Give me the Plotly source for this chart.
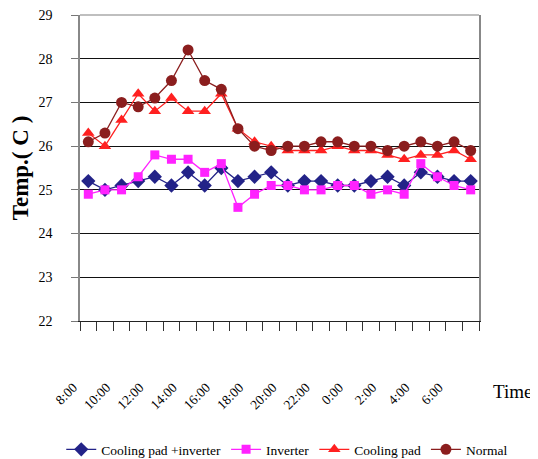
import plotly.graph_objects as go

times = ["8:00", "9:00", "10:00", "11:00", "12:00", "13:00", "14:00", "15:00",
         "16:00", "17:00", "18:00", "19:00", "20:00", "21:00", "22:00", "23:00",
         "0:00", "1:00", "2:00", "3:00", "4:00", "5:00", "6:00", "7:00"]
tick_labels = ["8:00", "10:00", "12:00", "14:00", "16:00", "18:00",
               "20:00", "22:00", "0:00", "2:00", "4:00", "6:00"]

cooling_pad_inverter = [25.2, 25.0, 25.1, 25.2, 25.3, 25.1, 25.4, 25.1, 25.5, 25.2, 25.3, 25.4,
                        25.1, 25.2, 25.2, 25.1, 25.1, 25.2, 25.3, 25.1, 25.4, 25.3, 25.2, 25.2]
inverter = [24.9, 25.0, 25.0, 25.3, 25.8, 25.7, 25.7, 25.4, 25.6, 24.6, 24.9, 25.1,
            25.1, 25.0, 25.0, 25.1, 25.1, 24.9, 25.0, 24.9, 25.6, 25.3, 25.1, 25.0]
cooling_pad = [26.3, 26.0, 26.6, 27.2, 26.8, 27.1, 26.8, 26.8, 27.2, 26.4, 26.1, 26.0,
               25.9, 25.9, 25.9, 26.0, 25.9, 25.9, 25.8, 25.7, 25.8, 25.8, 25.9, 25.7]
normal = [26.1, 26.3, 27.0, 26.9, 27.1, 27.5, 28.2, 27.5, 27.3, 26.4, 26.0, 25.9,
          26.0, 26.0, 26.1, 26.1, 26.0, 26.0, 25.9, 26.0, 26.1, 26.0, 26.1, 25.9]

FONT = "Liberation Serif, Times New Roman, serif"

series = [
    ("Cooling pad +inverter", cooling_pad_inverter, "#232388", "diamond", 11),
    ("Inverter", inverter, "#FF22FF", "square", 9),
    ("Cooling pad", cooling_pad, "#FF2020", "triangle-up", 11),
    ("Normal", normal, "#8B1E1E", "circle", 11),
]

fig = go.Figure()
for name, vals, color, sym, size in series:
    fig.add_trace(go.Scatter(
        x=times, y=vals, name=name, mode="lines+markers",
        line=dict(color=color, width=1.3),
        marker=dict(symbol=sym, size=size, color=color, line=dict(width=0)),
    ))

# invisible carrier trace so the label axis (x2) is drawn
fig.add_trace(go.Scatter(x=times, y=normal, xaxis="x2", yaxis="y", mode="lines",
                         line=dict(width=0, color="rgba(0,0,0,0)"),
                         showlegend=False, hoverinfo="skip"))

fig.update_layout(
    width=530, height=451,
    margin=dict(l=72, r=59, t=7, b=138, autoexpand=False),
    paper_bgcolor="white", plot_bgcolor="white",
    font=dict(family=FONT, color="black", size=14),
    showlegend=True,
    legend=dict(orientation="h", x=-0.047, xanchor="left", y=-0.42, yanchor="middle",
                font=dict(family=FONT, size=13.5), itemwidth=30,
                bgcolor="rgba(0,0,0,0)"),
    xaxis=dict(type="category", categoryorder="array", categoryarray=times,
               range=[-0.5, 23.5], tickson="boundaries", ticks="outside",
               ticklen=9, tickcolor="#333", tickwidth=1, automargin=False,
               showticklabels=False, showgrid=False, zeroline=False,
               showline=True, linecolor="#222", linewidth=1),
    xaxis2=dict(type="category", categoryorder="array", categoryarray=times,
                overlaying="x", anchor="y", side="bottom", range=[-0.5, 23.5],
                tickmode="array", tickvals=tick_labels, ticktext=tick_labels,
                tickangle=-45, ticks="", showgrid=False, zeroline=False, showline=False,
                ticklabelstandoff=55, ticklabelshift=-15, automargin=False,
                ticklabeloverflow="allow",
                tickfont=dict(family=FONT, size=13.5, color="black")),
    yaxis=dict(range=[22, 29], dtick=1, tick0=22, ticks="outside", ticklen=7,
               tickcolor="#777", showline=True, linecolor="#888", linewidth=1.5,
               mirror=True, showgrid=True, gridcolor="#111", gridwidth=1,
               zeroline=False, ticklabelstandoff=16, automargin=False,
               ticklabeloverflow="allow",
               tickfont=dict(family=FONT, size=14, color="black"),
               title=dict(text="<b>Temp.( C )</b>", standoff=14,
                          font=dict(family=FONT, size=23, color="black"))),
    shapes=[dict(type="line", xref="x domain", yref="y domain", x0=0, x1=1, y0=1, y1=1,
                 line=dict(color="#aaa", width=1.5))],
    annotations=[dict(text="Time", xref="paper", yref="paper", x=1.03, y=-0.229,
                      xanchor="left", yanchor="middle", showarrow=False,
                      font=dict(family=FONT, size=19, color="black"))],
)

fig.write_html("out.html")
